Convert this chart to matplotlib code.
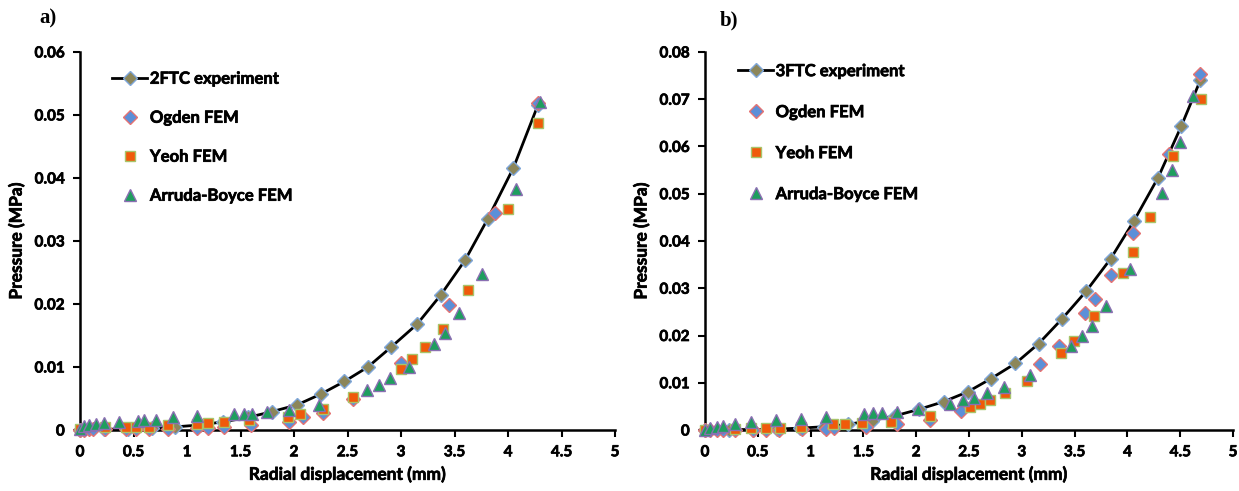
import matplotlib
matplotlib.use("Agg")
import matplotlib.pyplot as plt
import matplotlib.patheffects as pe
from matplotlib.ticker import FuncFormatter

plt.rcParams['font.family'] = ['Lato', 'DejaVu Sans']
plt.rcParams['font.weight'] = 'bold'

# ---- panel a: 2FTC ----
a_exp_x = [0, 0.22, 0.45, 0.67, 0.89, 1.12, 1.34, 1.57, 1.79, 2.03, 2.25, 2.47, 2.69,
           2.91, 3.15, 3.37, 3.60, 3.81, 4.05, 4.28]
a_exp_y = [0, 0.0001, 0.0002, 0.0003, 0.0005, 0.0008, 0.0013, 0.0020, 0.0029, 0.0040,
           0.0057, 0.0077, 0.0100, 0.0132, 0.0168, 0.0214, 0.0270, 0.0335, 0.0416, 0.0516]

a_ogden_x = [0, 0.04, 0.08, 0.12, 0.23, 0.43, 0.52, 0.64, 0.82, 1.09, 1.20, 1.35, 1.60,
             1.95, 2.08, 2.27, 2.55, 3.00, 3.45, 3.88, 4.28]
a_ogden_y = [0, 0, 0.0001, 0.0001, 0.0001, 0.0001, 0.0001, 0.0001, 0.0002, 0.0003, 0.0003,
             0.0005, 0.0008, 0.0013, 0.0020, 0.0027, 0.0050, 0.0106, 0.0198, 0.0344, 0.0519]

a_yeoh_x = [0, 0.23, 0.43, 0.52, 0.64, 0.82, 1.09, 1.20, 1.35, 1.58, 1.94, 2.06, 2.27,
            2.55, 3.00, 3.10, 3.22, 3.39, 3.63, 4.00, 4.28]
a_yeoh_y = [0.0002, 0.0004, 0.0005, 0.0005, 0.0005, 0.0008, 0.0010, 0.0011, 0.0012, 0.0016,
            0.0021, 0.0026, 0.0033, 0.0052, 0.0097, 0.0112, 0.0131, 0.0161, 0.0223, 0.0351,
            0.0487]

a_ab_x = [0, 0.04, 0.08, 0.15, 0.22, 0.36, 0.54, 0.60, 0.71, 0.87, 1.09, 1.44, 1.53, 1.61,
          1.75, 1.95, 2.23, 2.68, 2.79, 2.90, 3.07, 3.31, 3.41, 3.54, 3.76, 4.07, 4.30]
a_ab_y = [0.0002, 0.0006, 0.0008, 0.0010, 0.0011, 0.0012, 0.0014, 0.0016, 0.0016, 0.0020,
          0.0023, 0.0025, 0.0025, 0.0025, 0.0028, 0.0032, 0.0040, 0.0063, 0.0072, 0.0082,
          0.0100, 0.0136, 0.0154, 0.0186, 0.0248, 0.0383, 0.0520]

# ---- panel b: 3FTC ----
b_exp_x = [0, 0.23, 0.45, 0.68, 0.90, 1.13, 1.35, 1.58, 1.80, 2.03, 2.26, 2.49, 2.71,
           2.94, 3.16, 3.38, 3.61, 3.84, 4.06, 4.29, 4.51, 4.69]
b_exp_y = [0, 0.0001, 0.0001, 0.0002, 0.0004, 0.0007, 0.0012, 0.0020, 0.0030, 0.0044,
           0.0060, 0.0081, 0.0109, 0.0141, 0.0183, 0.0235, 0.0294, 0.0362, 0.0442, 0.0534,
           0.0643, 0.0740]

b_ogden_x = [0, 0.05, 0.11, 0.17, 0.28, 0.45, 0.58, 0.70, 0.92, 1.15, 1.22, 1.52, 1.82,
             2.13, 2.42, 3.17, 3.35, 3.60, 3.69, 3.84, 4.05, 4.39, 4.69]
b_ogden_y = [0, 0, 0, 0.0001, 0.0001, 0.0001, 0.0001, 0.0001, 0.0002, 0.0003, 0.0004,
             0.0007, 0.0012, 0.0021, 0.0040, 0.0139, 0.0177, 0.0247, 0.0277, 0.0328, 0.0417,
             0.0585, 0.0753]

b_yeoh_x = [0, 0.28, 0.44, 0.58, 0.71, 0.91, 1.21, 1.33, 1.49, 1.76, 2.13, 2.51, 2.60,
            2.70, 2.84, 3.05, 3.37, 3.49, 3.68, 3.96, 4.05, 4.21, 4.43, 4.70]
b_yeoh_y = [0, 0.0002, 0.0005, 0.0005, 0.0005, 0.0007, 0.0012, 0.0012, 0.0014, 0.0018,
            0.0030, 0.0048, 0.0056, 0.0063, 0.0078, 0.0104, 0.0163, 0.0189, 0.0241, 0.0333,
            0.0377, 0.0450, 0.0580, 0.0701]

b_ab_x = [0, 0.05, 0.11, 0.17, 0.28, 0.44, 0.67, 0.91, 1.15, 1.51, 1.59, 1.68, 1.82, 2.02,
          2.32, 2.44, 2.55, 2.67, 2.83, 3.08, 3.47, 3.57, 3.66, 3.80, 4.02, 4.33, 4.42,
          4.50, 4.62]
b_ab_y = [0, 0.0004, 0.0006, 0.0008, 0.0013, 0.0016, 0.0022, 0.0024, 0.0028, 0.0033,
          0.0036, 0.0037, 0.0039, 0.0045, 0.0055, 0.0063, 0.0068, 0.0078, 0.0092, 0.0116,
          0.0178, 0.0199, 0.0220, 0.0262, 0.0340, 0.0502, 0.0551, 0.0610, 0.0706]

x_ticks = [0, 0.5, 1, 1.5, 2, 2.5, 3, 3.5, 4, 4.5, 5]
a_yticks = [0, 0.01, 0.02, 0.03, 0.04, 0.05, 0.06]
b_yticks = [0, 0.01, 0.02, 0.03, 0.04, 0.05, 0.06, 0.07, 0.08]

EXP_STYLE = dict(color='black', lw=2.0, marker='D', ms=7.5, mfc='#8C865A', mec='#7FA7DA', mew=1.0)
OGDEN_STYLE = dict(ls='none', marker='D', ms=7.5, mfc='#5B8FD8', mec='#E57373', mew=1.0)
YEOH_STYLE = dict(ls='none', marker='s', ms=7.5, mfc='#F05A0A', mec='#A8C46A', mew=1.0)
AB_STYLE = dict(ls='none', marker='^', ms=8.5, mfc='#1E9E5E', mec='#8A6FB2', mew=1.0)

# slight outline to give the bold labels a heavier look
HEAVY = [pe.withStroke(linewidth=0.5, foreground='black')]

fig = plt.figure(figsize=(12.39, 4.91), dpi=100)
ax_a = fig.add_axes([0.0646, 0.1242, 0.4318, 0.770])
ax_b = fig.add_axes([0.5690, 0.1242, 0.4262, 0.770])


def fmt_num(v, pos):
    return "0" if abs(v) < 1e-12 else ("%g" % round(v, 4))


def draw(ax, exp, og, ye, ab, exp_label, yticks, legend_anchor, spacing):
    ax.plot(exp[0], exp[1], label=exp_label, **EXP_STYLE, zorder=3)
    ax.plot(og[0], og[1], label='Ogden FEM', **OGDEN_STYLE, zorder=4)
    ax.plot(ye[0], ye[1], label='Yeoh FEM', **YEOH_STYLE, zorder=5)
    ax.plot(ab[0], ab[1], label='Arruda-Boyce FEM', **AB_STYLE, zorder=6)
    ax.set_xlim(0, 5)
    ax.set_ylim(0, yticks[-1])
    ax.set_xticks(x_ticks)
    ax.set_yticks(yticks)
    ax.xaxis.set_major_formatter(FuncFormatter(fmt_num))
    ax.yaxis.set_major_formatter(FuncFormatter(fmt_num))
    for s in ('top', 'right'):
        ax.spines[s].set_visible(False)
    for s in ('left', 'bottom'):
        ax.spines[s].set_linewidth(1.8)
    ax.tick_params(direction='out', length=5, width=1.5, labelsize=11, pad=6)
    for lab in ax.get_xticklabels() + ax.get_yticklabels():
        lab.set_fontweight('bold')
        lab.set_path_effects(HEAVY)
    xl = ax.set_xlabel('Radial displacement (mm)', fontsize=12.5, fontweight='bold', labelpad=5)
    yl = ax.set_ylabel('Pressure (MPa)', fontsize=12.5, fontweight='bold', labelpad=7)
    xl.set_path_effects(HEAVY)
    yl.set_path_effects(HEAVY)
    ax.patch.set_visible(False)
    for ln in ax.lines:
        ln.set_clip_on(False)
    leg = ax.legend(loc='upper left', bbox_to_anchor=legend_anchor, frameon=False,
                    fontsize=12, labelspacing=spacing, handlelength=2.1, handletextpad=0.15,
                    borderaxespad=0)
    for t in leg.get_texts():
        t.set_fontweight('bold')
        t.set_path_effects(HEAVY)
    return leg


draw(ax_a, (a_exp_x, a_exp_y), (a_ogden_x, a_ogden_y), (a_yeoh_x, a_yeoh_y),
     (a_ab_x, a_ab_y), '2FTC experiment', a_yticks, (0.048, 0.968), 1.38)
draw(ax_b, (b_exp_x, b_exp_y), (b_ogden_x, b_ogden_y), (b_yeoh_x, b_yeoh_y),
     (b_ab_x, b_ab_y), '3FTC experiment', b_yticks, (0.050, 0.988), 1.5)

fig.text(0.032, 0.963, 'a)', family='Liberation Serif', fontsize=15, fontweight='bold',
         va='center', ha='left')
fig.text(0.581, 0.958, 'b)', family='Liberation Serif', fontsize=15, fontweight='bold',
         va='center', ha='left')

fig.savefig('out.png', dpi=100)
